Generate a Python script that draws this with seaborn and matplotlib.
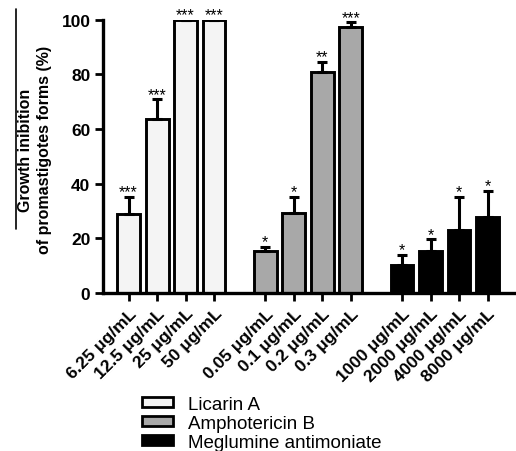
import matplotlib
matplotlib.use("Agg")
import matplotlib.pyplot as plt
import seaborn as sns
import pandas as pd
from matplotlib.lines import Line2D

# ---- data ----
drugs = ["Licarin A"] * 4 + ["Amphotericin B"] * 4 + ["Meglumine antimoniate"] * 4
concentrations = ["6.25 μg/mL", "12.5 μg/mL", "25 μg/mL", "50 μg/mL",
                  "0.05 μg/mL", "0.1 μg/mL", "0.2 μg/mL", "0.3 μg/mL",
                  "1000 μg/mL", "2000 μg/mL", "4000 μg/mL", "8000 μg/mL"]
inhibition = [29.0, 63.8, 100.0, 100.0,
              15.4, 29.3, 80.9, 97.3,
              10.3, 15.2, 23.1, 27.7]
sem_upper = [6.3, 7.0, 0.0, 0.0,
             1.5, 5.8, 3.8, 1.7,
             3.6, 4.4, 12.0, 9.5]
stars = ["***", "***", "***", "***",
         "*", "*", "**", "***",
         "*", "*", "*", "*"]
positions = [0, 1, 2, 3, 4.8, 5.8, 6.8, 7.8, 9.6, 10.6, 11.6, 12.6]
y_ticks = [0, 20, 40, 60, 80, 100]

palette = {"Licarin A": "#f4f4f4", "Amphotericin B": "#a8a8a8",
           "Meglumine antimoniate": "#000000"}

df = pd.DataFrame({"pos": positions, "val": inhibition, "drug": drugs})

sns.set_style("ticks")
plt.rcParams["font.family"] = ["Liberation Sans", "DejaVu Sans"]
plt.rcParams["text.color"] = "black"
plt.rcParams["xtick.color"] = "black"
plt.rcParams["ytick.color"] = "black"
plt.rcParams["axes.labelcolor"] = "black"
plt.rcParams["axes.edgecolor"] = "black"

fig = plt.figure(figsize=(5.16, 4.52), dpi=100)
ax = fig.add_axes([0.1996, 0.3496, 0.8004, 0.6046])

sns.barplot(data=df, x="pos", y="val", hue="drug", palette=palette,
            native_scale=True, dodge=False, width=0.8, errorbar=None,
            edgecolor="black", linewidth=2.1, ax=ax, legend=False,
            hue_order=["Licarin A", "Amphotericin B", "Meglumine antimoniate"])

ax.errorbar(positions, inhibition, yerr=[[0] * len(sem_upper), sem_upper],
            fmt="none", ecolor="black", elinewidth=2.2, capsize=3.8,
            capthick=2.2, zorder=1)

for x, v, e, s in zip(positions, inhibition, sem_upper, stars):
    ax.annotate(s, (x, v + e), xytext=(0, 0.5), textcoords="offset points",
                ha="center", va="baseline", fontsize=11.5)

ax.set_xlim(-0.9, 13.6)
ax.set_ylim(0, 100)
ax.set_yticks(y_ticks)
ax.set_yticklabels([str(t) for t in y_ticks], fontsize=12.5, fontweight="bold")
ax.set_xticks(positions)
ax.set_xticklabels(concentrations, rotation=45, ha="right",
                   rotation_mode="anchor", fontsize=12.5, fontweight="bold")
ax.set_xlabel("")
ax.set_ylabel("Growth inibition\nof promastigotes forms (%)", fontsize=11.5,
              fontweight="bold", linespacing=1.4)
ax.yaxis.label.set_va("center")
ax.yaxis.set_label_coords((35 - 103) / 413, (294 - 150) / 273.3)

sns.despine(ax=ax)
for sp in ["left", "bottom"]:
    ax.spines[sp].set_linewidth(2.4)
ax.tick_params(axis="both", width=2.0, length=6, direction="out", pad=3)

# overline artifact next to the y label
fig.add_artist(Line2D([16 / 516, 16 / 516], [1 - 10 / 452, 1 - 230 / 452],
                      color="black", linewidth=1.2, transform=fig.transFigure))

handles = [plt.Rectangle((0, 0), 1, 1, facecolor=palette[d], edgecolor="black",
                         linewidth=2.0) for d in palette]
fig.legend(handles, list(palette.keys()), loc="upper left",
           bbox_to_anchor=(142 / 516, 1 - 397 / 452), frameon=False,
           fontsize=13.5, borderpad=0, borderaxespad=0, handlelength=1.65,
           handleheight=0.43, handletextpad=0.8, labelspacing=0.1)

fig.savefig("out.png", dpi=100)
